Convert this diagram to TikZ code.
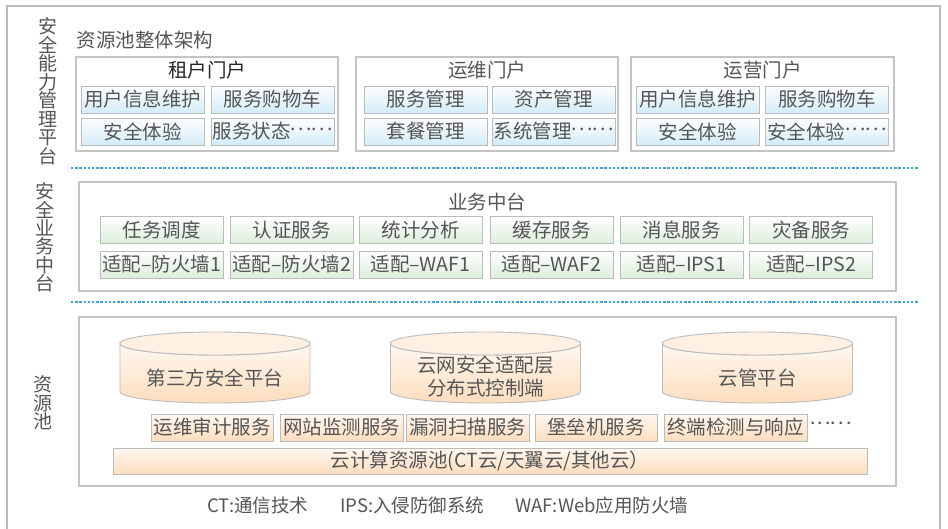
\documentclass[tikz,border=0pt]{standalone}
\usepackage{fontspec}
\setmainfont{Noto Sans CJK SC}
\definecolor{tg}{HTML}{555555}
\definecolor{bd}{HTML}{BBBBBB}
\definecolor{gbd}{HTML}{C4C4C4}
\definecolor{blueb}{HTML}{D3ECF8}
\definecolor{greenb}{HTML}{DCEEDC}
\definecolor{orb}{HTML}{FCDDBE}
\definecolor{ort}{HTML}{FFF8F1}
\definecolor{dotc}{HTML}{3FA3DD}
\newcommand{\dd}{\raisebox{0.42em}{.\kern0.12em.\kern0.12em.}}
\tikzset{
  txt/.style={font=\fontsize{19.5}{21}\selectfont, text=tg, inner sep=0pt},
  grp/.style={draw=gbd, line width=1.1pt, inner sep=0pt},
  cell/.style={txt, draw=bd, line width=0.9pt, minimum width=123pt, minimum height=27pt},
  bluebox/.style={cell, top color=white, bottom color=blueb},
  greenbox/.style={cell, top color=white, bottom color=greenb},
  orbox/.style={cell, top color=ort, bottom color=orb},
  sep/.style={draw=dotc, line width=1.2pt, dash pattern=on 2.4pt off 1.8pt},
  vlab/.style={txt, align=center},
  foot/.style={txt, font=\fontsize{18.5}{20}\selectfont, anchor=west},
  cylbody/.style={draw=bd, line width=0.9pt, top color=ort, bottom color=orb},
  cyltop/.style={draw=bd, line width=0.9pt, fill=ort!70!orb},
}
\newcommand{\mycyl}[1]{%
  \path[cylbody] (#1-95,343.5) -- (#1-95,391.5)
    arc[start angle=180, end angle=0, x radius=95, y radius=11.5]
    -- (#1+95,343.5) arc[start angle=0, end angle=180, x radius=95, y radius=11.5] -- cycle;
  \path[cyltop] (#1,343.5) ellipse [x radius=95, y radius=11.5];
}
\begin{document}
\begin{tikzpicture}[x=1pt,y=-1pt]
\useasboundingbox (0,0) rectangle (948,529);
\fill[white] (0,0) rectangle (948,529);
% outer frame
\draw[draw=bd, line width=1.1pt] (7,530) -- (7,6) -- (940,6) -- (940,530);

% left vertical labels
\node[vlab, font=\fontsize{19}{18.5}\selectfont] (lab1) at (48,91.5) {安\\全\\能\\力\\管\\理\\平\\台};
\node[vlab, font=\fontsize{19}{18.4}\selectfont] (lab2) at (45,237.5) {安\\全\\业\\务\\中\\台};
\node[vlab, font=\fontsize{19}{17}\selectfont] (lab3) at (43,403) {资\\源\\池};

\node[txt] (title) at (145,40) {资源池整体架构};

% portals
\node[grp, minimum width=262pt, minimum height=94pt] (p1) at (207,104) {};
\node[txt, text=black!85] (p1t) at (207,70) {租户门户};
\node[bluebox] (p1a) at (142.5,99.5) {用户信息维护};
\node[bluebox] (p1b) at (272.5,99.5) {服务购物车};
\node[bluebox] (p1c) at (142.5,131.5) {安全体验};
\node[bluebox] (p1d) at (272.5,131.5) {服务状态\dd\dd};

\node[grp, minimum width=262pt, minimum height=94pt] (p2) at (487,104) {};
\node[txt] (p2t) at (487,70) {运维门户};
\node[bluebox] (p2a) at (425.5,99.5) {服务管理};
\node[bluebox] (p2b) at (553.5,99.5) {资产管理};
\node[bluebox] (p2c) at (425.5,131.5) {套餐管理};
\node[bluebox] (p2d) at (553.5,131.5) {系统管理\dd\dd};

\node[grp, minimum width=263pt, minimum height=94pt] (p3) at (762.5,104) {};
\node[txt] (p3t) at (762.5,70) {运营门户};
\node[bluebox] (p3a) at (697.5,99.5) {用户信息维护};
\node[bluebox] (p3b) at (827,99.5) {服务购物车};
\node[bluebox] (p3c) at (697.5,131.5) {安全体验};
\node[bluebox] (p3d) at (827,131.5) {安全体验\dd\dd};

\draw[sep] (71,168) -- (918,168);

% middle platform
\node[grp, minimum width=817pt, minimum height=109pt] (mid) at (487.5,236.5) {};
\node[txt] (midt) at (487,202) {业务中台};
\node[greenbox] (m1) at (161.5,230) {任务调度};
\node[greenbox] (m2) at (291.5,230) {认证服务};
\node[greenbox] (m3) at (420.5,230) {统计分析};
\node[greenbox] (m4) at (551.5,230) {缓存服务};
\node[greenbox] (m5) at (681.5,230) {消息服务};
\node[greenbox] (m6) at (811,230) {灾备服务};
\node[greenbox] (n1) at (161.5,264.5) {适配–防火墙1};
\node[greenbox] (n2) at (291.5,264.5) {适配–防火墙2};
\node[greenbox] (n3) at (420.5,264.5) {适配–WAF1};
\node[greenbox] (n4) at (551.5,264.5) {适配–WAF2};
\node[greenbox] (n5) at (681.5,264.5) {适配–IPS1};
\node[greenbox] (n6) at (811,264.5) {适配–IPS2};

\draw[sep] (71,302) -- (918,302);

% resource pool
\node[grp, minimum width=817pt, minimum height=169pt] (pool) at (487.5,401.5) {};
\mycyl{215}
\mycyl{485.5}
\mycyl{757.5}
\node[txt] (c1) at (215,378) {第三方安全平台};
\node[txt, align=center, font=\fontsize{19.5}{23}\selectfont] (c2) at (485.5,377) {云网安全适配层\\分布式控制端};
\node[txt] (c3) at (757.5,378) {云管平台};

\node[orbox, minimum width=122pt] (s1) at (212,427.5) {运维审计服务};
\node[orbox] (s2) at (341.5,427.5) {网站监测服务};
\node[orbox] (s3) at (467.5,427.5) {漏洞扫描服务};
\node[orbox, minimum width=122pt] (s4) at (596,427.5) {堡垒机服务};
\node[orbox, minimum width=143pt] (s5) at (735.5,427.5) {终端检测与响应};
\node[txt] (s6) at (831,427) {\dd\dd};
\node[orbox, minimum width=754pt, minimum height=26pt] (cloud) at (490,461) {云计算资源池(CT云/天翼云/其他云）};

% footer
\node[foot] (f1) at (207,505) {CT:通信技术};
\node[foot] (f2) at (340,505) {IPS:入侵防御系统};
\node[foot] (f3) at (515,505) {WAF:Web应用防火墙};
\end{tikzpicture}
\end{document}
